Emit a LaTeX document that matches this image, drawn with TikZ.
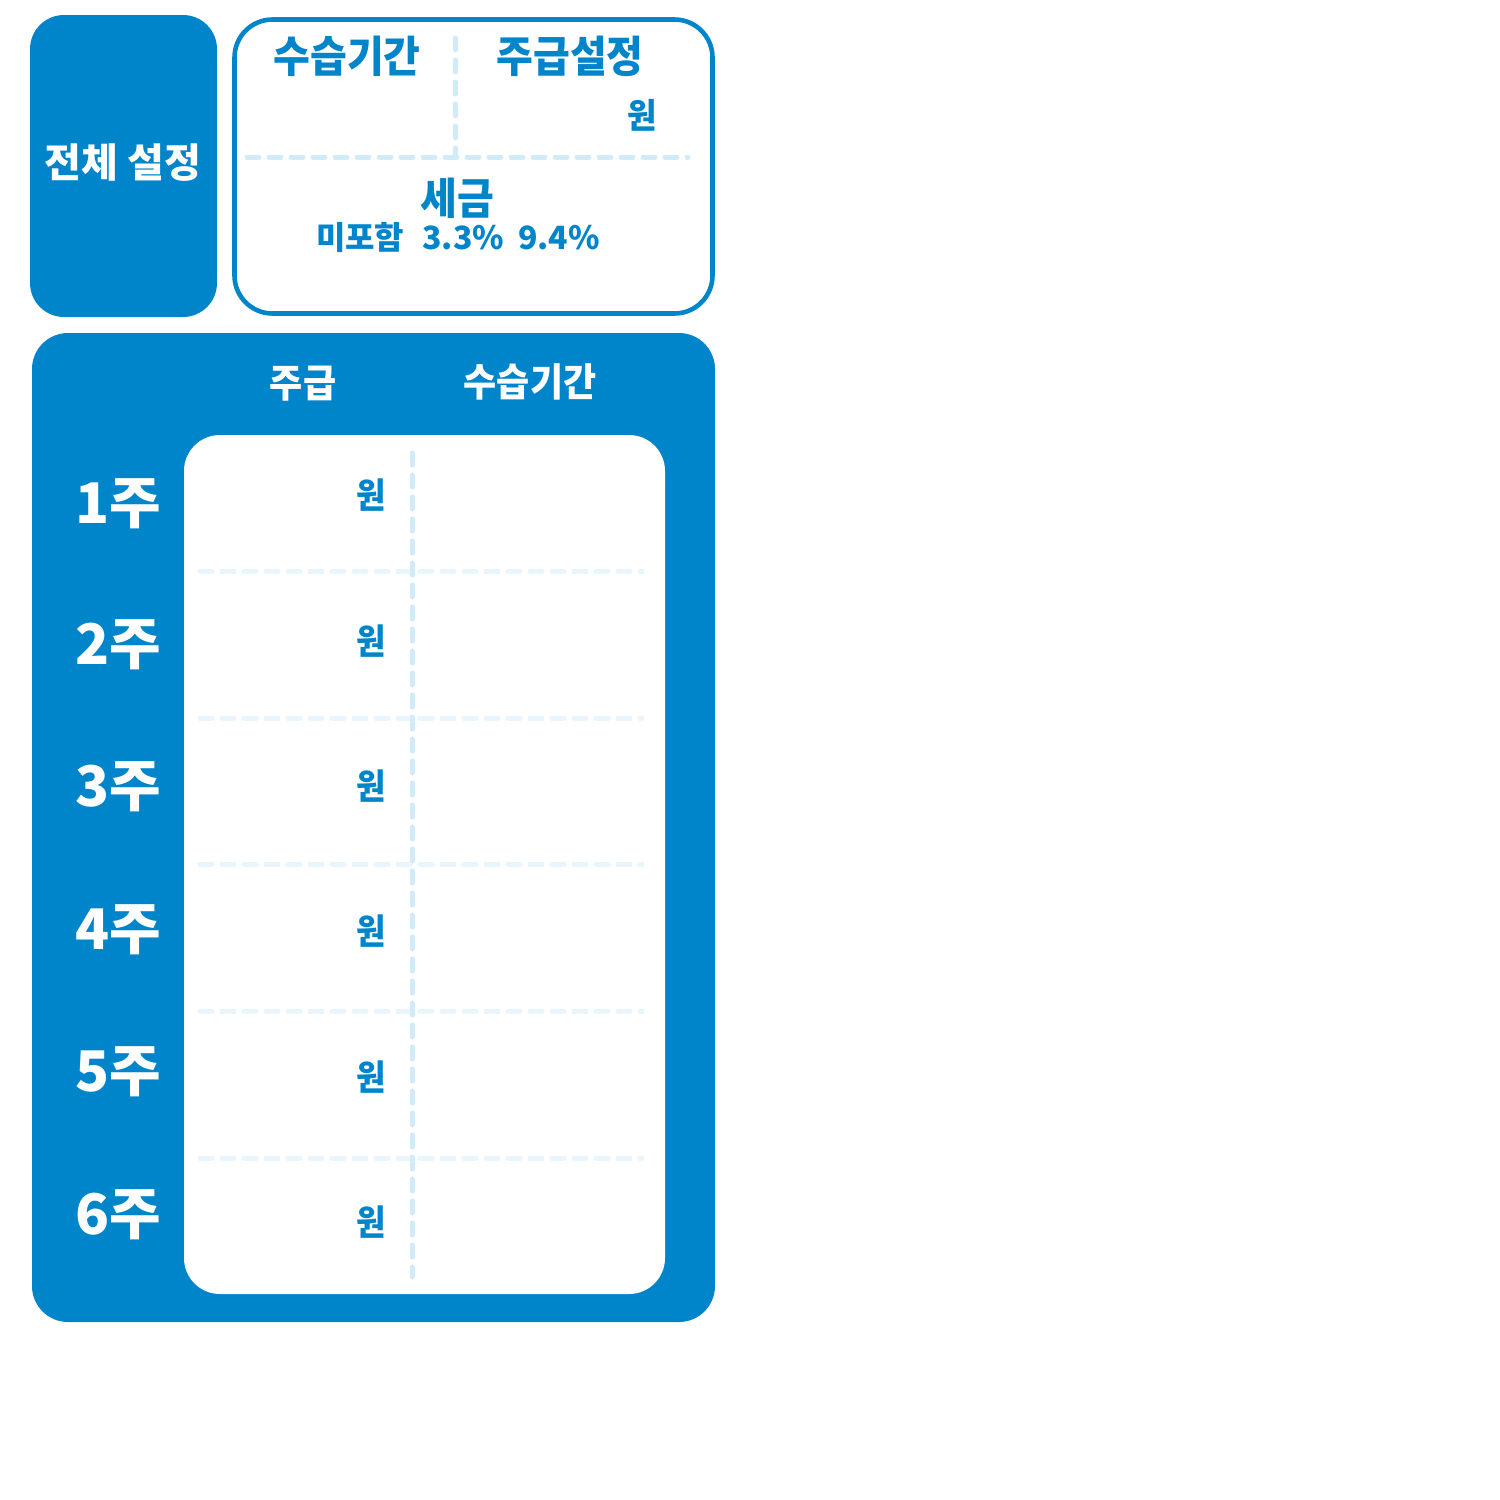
\documentclass[tikz,border=0pt]{standalone}
\usepackage{fontspec}
\setmainfont{Noto Sans CJK KR}
\usepackage{xcolor}
\definecolor{mainblue}{HTML}{0085CA}
\definecolor{dashblue}{HTML}{D2EBF9}
\definecolor{paleblue}{HTML}{E8F5FC}
\tikzset{
  dashline/.style={line width=2.5pt,line cap=round,dash pattern=on 6pt off 5pt},
  bigtxt/.style={font=\fontsize{20}{24}\selectfont\bfseries},
  midtxt/.style={font=\fontsize{18}{22}\selectfont\bfseries},
  smalltxt/.style={font=\fontsize{16}{19}\selectfont\bfseries},
  weektxt/.style={font=\fontsize{28}{32}\selectfont\bfseries,text=white},
}

\begin{document}
\begin{tikzpicture}[x=0.5pt,y=-0.5pt]
			\useasboundingbox (0,0) rectangle (1500,1500);
			% top: overall settings
			\fill[mainblue,rounded corners=17pt](30,15) rectangle (217,317);
			\node[bigtxt,text=white] (allset) at (123,163) {전체 설정};
			\draw[mainblue,line width=2.3pt,fill=white,rounded corners=19pt](234.5,19.5) rectangle (712.5,313.5);
			\draw[dashline,dashblue](247,157)--(688,157);
			\draw[dashline,dashblue](455,38)--(455,157);
			\node[bigtxt,text=mainblue] (probtop) at (347,56) {\scalebox{1}[1.08]{수습기간}};
			\node[bigtxt,text=mainblue] (paytop) at (570,56) {\scalebox{1}[1.08]{주급설정}};
			\node[smalltxt,text=mainblue] (wontop) at (642,115) {\scalebox{1}[1.08]{원}};
			\node[bigtxt,text=mainblue] (tax) at (457,198) {\scalebox{1}[1.08]{세금}};
			\node[smalltxt,text=mainblue] (taxopt) at (458,237) {미포함\hspace{9pt}3.3\%\hspace{7pt}9.4\%};
			% bottom: weekly table
			\fill[mainblue,rounded corners=18pt](32,333) rectangle (715,1322);
			\fill[white,rounded corners=18pt](184,435) rectangle (665,1294);
			\node[midtxt,text=white] (payhead) at (303,384) {\scalebox{1}[1.08]{주급}};
			\node[midtxt,text=white] (probhead) at (530,382) {\scalebox{1}[1.08]{수습기간}};
			\draw[dashline,paleblue](200,571)--(642,571);
			\draw[dashline,paleblue](200,718)--(642,718);
			\draw[dashline,paleblue](200,864)--(642,864);
			\draw[dashline,paleblue](200,1011)--(642,1011);
			\draw[dashline,paleblue](200,1158)--(642,1158);
			\draw[dashline,dashblue](412,453)--(412,1277);
			\node[weektxt] (wk1) at (118,504) {1주};
			\node[weektxt] (wk2) at (118,645) {2주};
			\node[weektxt] (wk3) at (118,787) {3주};
			\node[weektxt] (wk4) at (118,930) {4주};
			\node[weektxt] (wk5) at (118,1072) {5주};
			\node[weektxt] (wk6) at (118,1215) {6주};
			\node[smalltxt,text=mainblue] (won1) at (371,495) {\scalebox{1}[1.1]{원}};
			\node[smalltxt,text=mainblue] (won2) at (371,641) {\scalebox{1}[1.1]{원}};
			\node[smalltxt,text=mainblue] (won3) at (371,786) {\scalebox{1}[1.1]{원}};
			\node[smalltxt,text=mainblue] (won4) at (371,931) {\scalebox{1}[1.1]{원}};
			\node[smalltxt,text=mainblue] (won5) at (371,1077) {\scalebox{1}[1.1]{원}};
			\node[smalltxt,text=mainblue] (won6) at (371,1222) {\scalebox{1}[1.1]{원}};
		\end{tikzpicture}
\end{document}
